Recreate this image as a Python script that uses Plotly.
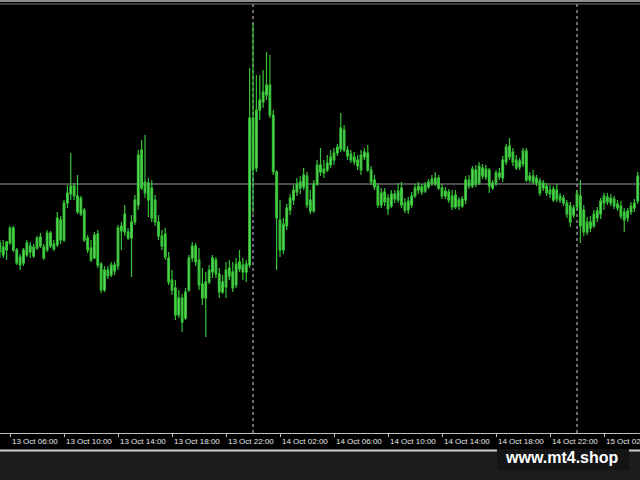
import pandas as pd
import plotly.graph_objects as go

# M15 bars, quote expressed in points
open_pts = [207,195,208,207,222,200,193,187,195,204,194,202,213,203,200,217,201,205,230,210,
            247,256,264,254,236,240,212,202,192,216,186,160,180,175,185,184,224,218,218,212,
            228,245,300,257,267,262,250,228,214,216,192,170,162,135,152,132,160,192,204,190,
            166,152,168,178,190,176,158,163,182,178,165,188,178,178,185,332,282,340,348,355,
            365,335,278,230,200,224,240,250,258,268,263,274,250,239,266,285,277,280,285,290,
            297,301,320,300,296,293,290,280,293,297,280,270,264,245,258,252,244,256,250,262,
            247,240,245,254,260,263,259,263,267,266,272,262,254,258,254,243,250,244,250,270,
            264,280,267,282,273,280,262,267,277,272,288,304,298,290,283,286,299,274,268,272,
            269,262,264,260,250,260,254,252,247,244,235,243,254,240,218,228,224,232,236,247,
            253,247,251,246,244,238,232,238,242,249]
high_pts = [210,210,209,224,224,202,196,202,210,208,206,214,217,206,220,219,210,238,234,250,
            265,297,267,275,254,242,215,210,218,220,188,184,184,188,188,225,228,245,222,235,
            255,300,310,315,272,270,255,235,220,222,198,180,170,160,156,162,195,208,207,202,
            182,178,185,195,193,182,175,188,190,188,192,200,192,190,382,427,375,375,380,398,
            395,340,280,250,232,246,256,265,272,274,282,278,260,270,290,302,290,295,300,302,
            306,337,325,304,300,298,295,300,302,305,284,275,267,262,262,256,260,260,267,268,
            252,253,258,266,268,266,268,271,275,278,275,266,263,261,260,260,253,254,274,275,
            284,285,288,286,285,282,270,280,282,294,306,312,302,295,292,302,302,278,280,275,
            272,270,267,265,264,266,257,255,250,248,245,260,270,245,233,234,240,243,252,257,
            257,256,254,250,249,242,242,248,251,278]
low_pts = [192,192,190,205,198,185,180,184,193,192,192,200,202,190,198,202,199,203,206,208,
           242,250,250,236,234,208,197,188,191,182,157,158,171,173,175,180,200,214,210,173,
           225,240,260,252,233,228,224,210,200,190,165,155,130,132,118,130,158,188,184,160,
           145,113,166,172,172,152,156,152,170,158,162,178,170,168,182,237,278,330,342,350,
           332,275,180,193,196,220,235,245,254,256,260,242,236,237,264,274,272,278,282,285,
           294,298,298,290,287,285,280,275,290,278,265,260,242,242,244,235,242,247,247,242,
           237,236,242,252,256,255,257,261,264,264,260,251,251,247,240,241,240,242,246,261,
           262,263,265,271,270,257,260,264,270,268,285,290,284,280,280,283,268,267,266,264,
           254,259,254,252,248,248,247,244,232,223,232,240,207,214,215,218,222,228,231,240,
           245,244,241,239,231,218,228,235,238,246]
close_pts = [198,203,200,222,200,187,185,200,207,198,203,212,204,192,217,204,206,232,210,247,
             257,264,254,238,252,210,200,190,215,185,160,180,174,185,179,222,219,236,212,228,
             250,295,262,268,250,232,228,214,204,193,168,160,135,152,128,158,192,204,188,165,
             152,168,180,192,176,158,168,180,174,162,186,181,185,186,332,280,340,350,358,365,
             335,278,232,200,226,242,252,260,266,262,275,245,239,266,285,278,281,287,293,297,
             303,322,300,294,290,288,284,295,298,280,268,263,245,257,248,241,256,251,259,245,
             240,249,254,262,264,258,265,268,271,272,262,254,259,250,243,255,244,251,270,264,
             281,266,284,274,281,264,267,277,273,290,303,293,288,282,289,299,270,270,274,267,
             257,267,257,256,261,251,250,247,236,228,242,256,224,218,228,222,236,239,249,254,
             248,252,244,242,234,230,239,244,247,274]
bid_pts = 266
start_time = "2021-10-13 05:15"
bar_minutes = 15
separators = ["2021-10-14 00:00", "2021-10-15 00:00"]
tick_labels = ["13 Oct 02:00", "13 Oct 06:00", "13 Oct 10:00", "13 Oct 14:00", "13 Oct 18:00",
               "13 Oct 22:00", "14 Oct 02:00", "14 Oct 06:00", "14 Oct 10:00", "14 Oct 14:00",
               "14 Oct 18:00", "14 Oct 22:00", "15 Oct 02:00"]
tick_times = ["2021-10-13 02:00", "2021-10-13 06:00", "2021-10-13 10:00", "2021-10-13 14:00",
              "2021-10-13 18:00", "2021-10-13 22:00", "2021-10-14 02:00", "2021-10-14 06:00",
              "2021-10-14 10:00", "2021-10-14 14:00", "2021-10-14 18:00", "2021-10-14 22:00",
              "2021-10-15 02:00"]

times = pd.date_range(start_time, periods=len(close_pts), freq=f"{bar_minutes}min")

fig = go.Figure()
fig.add_trace(go.Candlestick(
    x=times, open=open_pts, high=high_pts, low=low_pts, close=close_pts,
    increasing=dict(line=dict(color="#38c238", width=1.2), fillcolor="#7cf27c"),
    decreasing=dict(line=dict(color="#38c238", width=1.2), fillcolor="#52dc52"),
    whiskerwidth=0, showlegend=False, hoverinfo="skip",
))

# layout geometry (pixels)
W, H = 640, 480
plot_top, plot_bottom = 4, 433
ph = plot_bottom - plot_top

def py(pix):
    return (plot_bottom - pix) / ph

x_left = pd.Timestamp("2021-10-13 06:00") - pd.Timedelta(hours=4) * (10 / 54)
x_right = x_left + pd.Timedelta(hours=4) * (W / 54)

shapes = []
for s in separators:
    shapes.append(dict(type="line", xref="x", yref="paper", x0=s, x1=s, y0=0, y1=1,
                       line=dict(color="#d8d8d8", width=1, dash="dot"), layer="below"))
shapes.append(dict(type="line", xref="paper", yref="y", x0=0, x1=1, y0=bid_pts, y1=bid_pts,
                   line=dict(color="#9a9a9a", width=1), layer="below"))
# top border lines
shapes.append(dict(type="rect", xref="paper", yref="paper", x0=0, x1=1, y0=py(0), y1=py(2),
                   fillcolor="#8c8c8c", line=dict(width=0)))
shapes.append(dict(type="line", xref="paper", yref="paper", x0=0, x1=1, y0=py(4), y1=py(4),
                   line=dict(color="#7a7a7a", width=1)))
# bottom panel
shapes.append(dict(type="rect", xref="paper", yref="paper", x0=0, x1=1, y0=py(480), y1=py(451),
                   fillcolor="#1c1c1c", line=dict(width=0)))
shapes.append(dict(type="line", xref="paper", yref="paper", x0=0, x1=1, y0=py(450.5), y1=py(450.5),
                   line=dict(color="#d0d0d0", width=2)))
# watermark box
shapes.append(dict(type="rect", xref="paper", yref="paper", x0=497 / W, x1=629 / W,
                   y0=py(470), y1=py(449), fillcolor="#141414", line=dict(width=0)))

annotations = [dict(text=lab, x=t, xref="x", yref="paper", y=py(441.5), xanchor="left",
                    yanchor="middle", showarrow=False, xshift=0,
                    font=dict(family="Liberation Sans", size=8, color="#e8e8e8"))
               for lab, t in zip(tick_labels, tick_times)]
annotations.append(dict(text="<b>www.mt4.shop</b>", xref="paper", yref="paper",
                        x=562 / W, y=py(457.5), xanchor="center", yanchor="middle",
                        showarrow=False,
                        font=dict(family="Liberation Sans", size=16, color="#ffffff")))

fig.update_layout(
    width=W, height=H,
    margin=dict(l=0, r=0, t=plot_top, b=H - plot_bottom, pad=0),
    paper_bgcolor="#000000", plot_bgcolor="#000000",
    shapes=shapes, annotations=annotations,
    xaxis=dict(
        type="date", range=[x_left, x_right], rangeslider=dict(visible=False),
        tickvals=tick_times, showticklabels=False,
        ticks="outside", ticklen=3, tickcolor="#c0c0c0", showline=True,
        linecolor="#c0c0c0", linewidth=1, showgrid=False, zeroline=False,
    ),
    yaxis=dict(range=[450 - plot_bottom, 450 - plot_top], showticklabels=False,
               showgrid=False, zeroline=False, ticks=""),
)

fig.write_html("out.html", config={"displayModeBar": False},
               post_script="document.body.style.margin='0';document.body.style.background='#000';")
